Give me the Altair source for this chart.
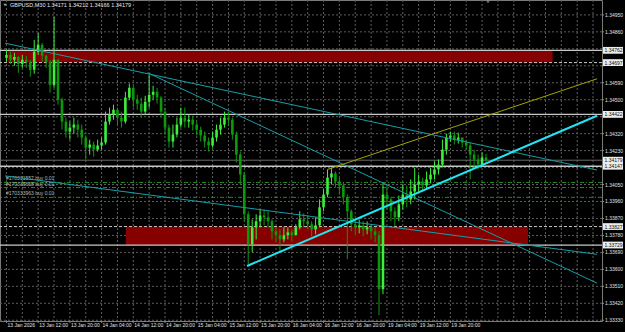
import altair as alt
import pandas as pd

# ---------------- data ----------------
symbol_title = "GBPUSD,M30  1.34171 1.34212 1.34166 1.34179"

first_open = 1.34722
closes = [1.34738, 1.34712, 1.34727, 1.34690, 1.34712, 1.34701, 1.34659, 1.34754, 1.34791, 1.34733,
          1.34701, 1.34579, 1.34712, 1.34500, 1.34384, 1.34331, 1.34352, 1.34368, 1.34341, 1.34299,
          1.34246, 1.34262, 1.34235, 1.34257, 1.34273, 1.34384, 1.34421, 1.34447, 1.34405, 1.34384,
          1.34511, 1.34563, 1.34500, 1.34479, 1.34437, 1.34489, 1.34526, 1.34542, 1.34511, 1.34437,
          1.34352, 1.34278, 1.34315, 1.34368, 1.34405, 1.34384, 1.34394, 1.34368, 1.34341, 1.34310,
          1.34278, 1.34257, 1.34299, 1.34341, 1.34368, 1.34405, 1.34394, 1.34315, 1.34209, 1.34103,
          1.33892, 1.33733, 1.33823, 1.33855, 1.33886, 1.33876, 1.33855, 1.33802, 1.33781, 1.33759,
          1.33781, 1.33796, 1.33781, 1.33823, 1.33865, 1.33855, 1.33839, 1.33812, 1.33833, 1.33929,
          1.33997, 1.34087, 1.34109, 1.34066, 1.34045, 1.33982, 1.33908, 1.33839, 1.33823, 1.33833,
          1.33812, 1.33823, 1.33802, 1.33781, 1.33495, 1.33997, 1.33971, 1.33908, 1.33876, 1.33945,
          1.33997, 1.33971, 1.34013, 1.34050, 1.34066, 1.34045, 1.34077, 1.34103, 1.34130, 1.34156,
          1.34235, 1.34299, 1.34310, 1.34288, 1.34299, 1.34273, 1.34257, 1.34209, 1.34183, 1.34156,
          1.34193, 1.34179]
highs = [1.34764, 1.34754, 1.34749, 1.34733, 1.34738, 1.34733, 1.34712, 1.34817, 1.34854, 1.34801,
         1.34738, 1.34712, 1.34939, 1.34717, 1.34511, 1.34405, 1.34384, 1.34405, 1.34394, 1.34368,
         1.34310, 1.34288, 1.34278, 1.34288, 1.34299, 1.34437, 1.34458, 1.34474, 1.34458, 1.34437,
         1.34542, 1.34585, 1.34574, 1.34526, 1.34511, 1.34521, 1.34632, 1.34574, 1.34563, 1.34521,
         1.34458, 1.34368, 1.34368, 1.34405, 1.34458, 1.34458, 1.34421, 1.34415, 1.34384, 1.34357,
         1.34331, 1.34299, 1.34331, 1.34368, 1.34405, 1.34437, 1.34437, 1.34405, 1.34331, 1.34225,
         1.34119, 1.33908, 1.33865, 1.33892, 1.33918, 1.33918, 1.33908, 1.33865, 1.33823, 1.33812,
         1.33823, 1.33823, 1.33812, 1.33839, 1.33908, 1.33897, 1.33886, 1.33855, 1.33876, 1.33971,
         1.34024, 1.34130, 1.34140, 1.34119, 1.34087, 1.34061, 1.33997, 1.33918, 1.33855, 1.33865,
         1.33855, 1.33855, 1.33839, 1.33823, 1.33802, 1.34061, 1.34045, 1.33982, 1.33929, 1.33992,
         1.34050, 1.34045, 1.34077, 1.34140, 1.34103, 1.34087, 1.34119, 1.34140, 1.34172, 1.34183,
         1.34288, 1.34320, 1.34331, 1.34331, 1.34325, 1.34299, 1.34288, 1.34273, 1.34235, 1.34209,
         1.34220, 1.34212]
lows = [1.34701, 1.34690, 1.34680, 1.34643, 1.34669, 1.34669, 1.34622, 1.34638, 1.34738, 1.34701,
        1.34669, 1.34537, 1.34563, 1.34474, 1.34341, 1.34299, 1.34288, 1.34320, 1.34299, 1.34262,
        1.34183, 1.34209, 1.34198, 1.34225, 1.34235, 1.34262, 1.34368, 1.34394, 1.34368, 1.34352,
        1.34373, 1.34500, 1.34458, 1.34447, 1.34405, 1.34421, 1.34458, 1.34500, 1.34479, 1.34405,
        1.34315, 1.34246, 1.34246, 1.34299, 1.34352, 1.34352, 1.34352, 1.34336, 1.34310, 1.34278,
        1.34246, 1.34225, 1.34246, 1.34278, 1.34315, 1.34352, 1.34362, 1.34288, 1.34167, 1.34050,
        1.33855, 1.33627, 1.33691, 1.33759, 1.33823, 1.33833, 1.33823, 1.33759, 1.33744, 1.33696,
        1.33744, 1.33759, 1.33749, 1.33781, 1.33812, 1.33823, 1.33812, 1.33775, 1.33786, 1.33823,
        1.33908, 1.33982, 1.34050, 1.34034, 1.33997, 1.33945, 1.33654, 1.33802, 1.33781, 1.33791,
        1.33775, 1.33786, 1.33759, 1.33744, 1.33357, 1.33468, 1.33918, 1.33855, 1.33828, 1.33855,
        1.33918, 1.33929, 1.33945, 1.33971, 1.34013, 1.34013, 1.34024, 1.34056, 1.34077, 1.34103,
        1.34140, 1.34209, 1.34278, 1.34262, 1.34267, 1.34246, 1.34235, 1.34077, 1.34140, 1.34130,
        1.34146, 1.34166]

time_labels = ["13 Jan 2026", "13 Jan 12:00", "13 Jan 20:00", "14 Jan 04:00", "14 Jan 12:00",
               "14 Jan 20:00", "15 Jan 04:00", "15 Jan 12:00", "15 Jan 20:00", "16 Jan 04:00",
               "16 Jan 12:00", "16 Jan 20:00", "19 Jan 04:00", "19 Jan 12:00", "19 Jan 20:00"]
label_bars = [0, 8, 16, 24, 32, 40, 48, 56, 64, 72, 80, 88, 96, 104, 112]
grid_bars = list(range(0, 149, 4))
price_ticks = [1.33330, 1.33420, 1.33510, 1.33600, 1.33690, 1.33780, 1.33870, 1.33960, 1.34050,
               1.34140, 1.34230, 1.34320, 1.34410, 1.34500, 1.34590, 1.34680, 1.34770, 1.34860, 1.34950]

level_prices = [1.34762, 1.34697, 1.34422, 1.34179, 1.34147, 1.33827, 1.33729]
level_kinds = ["solid", "dash", "solid", "bid", "solid", "dash", "solid"]

zone_x0 = [0.4, 30.1]
zone_x1 = [137.8, 131.6]
zone_lo = [1.34697, 1.33729]
zone_hi = [1.34765, 1.33827]

trend_x0 = [-0.37, 35.6, -0.37, 60.7, 81.0]
trend_p0 = [1.34800, 1.34643, 1.34096, 1.33618, 1.34130]
trend_x1 = [149.0, 149.0, 149.0, 149.0, 149.0]
trend_p1 = [1.34127, 1.33527, 1.33680, 1.34415, 1.34611]
trend_kinds = ["teal", "teal", "teal", "cyan", "olive"]

order_labels = ["#170331557 buy 0.01", "#170336658 buy 0.01", "#170333963 buy 0.01"]
order_prices = [1.34061, 1.34034, 1.33982]

# ---------------- tables ----------------
opens = [first_open] + closes[:-1]
candles = pd.DataFrame({
    "bar": list(range(len(closes))),
    "open": opens, "high": highs, "low": lows, "close": closes,
})
candles["dir"] = ["up" if c >= o else "down" for o, c in zip(opens, closes)]

levels = pd.DataFrame({"price": level_prices, "kind": level_kinds})
zones = pd.DataFrame({"x0": zone_x0, "x1": zone_x1, "lo": zone_lo, "hi": zone_hi})
trends = pd.DataFrame({"x0": trend_x0, "p0": trend_p0, "x1": trend_x1, "p1": trend_p1, "kind": trend_kinds})
orders = pd.DataFrame({"label": order_labels, "price": order_prices})
vgrid = pd.DataFrame({"bar": grid_bars})
hgrid = pd.DataFrame({"price": price_ticks, "txt": [f"{p:.5f}" for p in price_ticks]})
# price-scale labels that sit under a level tag are covered by it in the terminal
hgrid["covered"] = [any(abs(p - q) < 0.00020 for q in level_prices) for p in price_ticks]
xlabels = pd.DataFrame({"bar": label_bars, "txt": time_labels})
tags = pd.DataFrame({"price": level_prices, "txt": [f"{p:.5f}" for p in level_prices]})
title_df = pd.DataFrame({"t": [symbol_title]})

XS = alt.Scale(domain=[-0.372, 149.0], nice=False, zero=False)
YS = alt.Scale(domain=[1.33326, 1.35029], nice=False, zero=False)
FONT = "Liberation Sans"
LABEL_COL = "#e0e0e0"
GRID_COL = "#5e5e5e"


def xq(field):
    return alt.X(field, type="quantitative", scale=XS, axis=None)


def yq(field):
    return alt.Y(field, type="quantitative", scale=YS, axis=None)


vgrid_layer = alt.Chart(vgrid).mark_rule(color=GRID_COL, strokeDash=[2, 2], strokeWidth=1).encode(
    x=xq("bar"))
hgrid_layer = alt.Chart(hgrid).mark_rule(color=GRID_COL, strokeDash=[2, 2], strokeWidth=1).encode(
    y=yq("price"))

# axis ticks and labels (right price scale, bottom time scale)
ytick_layer = alt.Chart(hgrid).mark_rule(color="#8a8a8a", strokeWidth=1).encode(
    y=yq("price"), x=alt.value(602), x2=alt.value(604))
ylabel_layer = alt.Chart(hgrid).transform_filter("!datum.covered").mark_text(
    align="left", baseline="middle", fontSize=5, color=LABEL_COL, font=FONT).encode(
    x=alt.value(605), y=yq("price"), text="txt:N")
xtick_layer = alt.Chart(xlabels).mark_rule(color="#8a8a8a", strokeWidth=1).encode(
    x=xq("bar"), y=alt.value(321), y2=alt.value(323))
xlabel_layer = alt.Chart(xlabels).mark_text(align="left", baseline="top", fontSize=5, color=LABEL_COL,
                                            font=FONT, dx=1).encode(
    x=xq("bar"), y=alt.value(323), text="txt:N")

zone_layer = alt.Chart(zones).mark_rect(color="#860000", opacity=1).encode(
    x=xq("x0"), x2="x1:Q", y=yq("lo"), y2="hi:Q")

level_solid = alt.Chart(levels).transform_filter("datum.kind == 'solid'").mark_rule(
    color="#c8c8c8", strokeWidth=1.3).encode(y=yq("price"))
level_dash = alt.Chart(levels).transform_filter("datum.kind == 'dash'").mark_rule(
    color="#c8c8c8", strokeWidth=1, strokeDash=[3, 2]).encode(y=yq("price"))
level_bid = alt.Chart(levels).transform_filter("datum.kind == 'bid'").mark_rule(
    color="#6a6a6a", strokeWidth=1).encode(y=yq("price"))

order_lines = alt.Chart(orders).mark_rule(color="#1f8f1f", strokeWidth=1, strokeDash=[4, 2, 1, 2]).encode(
    y=yq("price"))
order_text = alt.Chart(orders).mark_text(align="left", baseline="bottom", dy=-1, fontSize=5,
                                         color="#b8b8b8", font=FONT).encode(
    x=alt.value(6), y=yq("price"), text="label:N")

candle_color = alt.Color("dir:N", scale=alt.Scale(domain=["up", "down"], range=["#3cf03c", "#0c9a0c"]),
                         legend=None)
wicks = alt.Chart(candles).mark_rule(strokeWidth=1).encode(
    x=xq("bar"), y=yq("low"), y2="high:Q", color=candle_color)
bodies = alt.Chart(candles).mark_bar(size=2.6).encode(
    x=xq("bar"), y=yq("open"), y2="close:Q", color=candle_color)


def trend(kind, color, width):
    return alt.Chart(trends).transform_filter(f"datum.kind == '{kind}'").mark_rule(
        clip=True, color=color, strokeWidth=width).encode(
        x=xq("x0"), x2="x1:Q", y=yq("p0"), y2="p1:Q")


trend_teal = trend("teal", "#169ea6", 1)
trend_cyan = trend("cyan", "#22e4f2", 2)
trend_olive = trend("olive", "#a4a400", 1)

tag_box = alt.Chart(tags).mark_point(shape="M-1,-0.34L1,-0.34L1,0.34L-1,0.34Z", filled=True,
                                     fill="#ececec", strokeWidth=0, size=400, opacity=1).encode(
    x=alt.value(613), y=yq("price"))
tag_text = alt.Chart(tags).mark_text(align="left", baseline="middle", fontSize=5, color="#101010",
                                     font=FONT).encode(
    x=alt.value(604.5), y=yq("price"), text="txt:N")

title_mark = alt.Chart(title_df).mark_text(align="left", baseline="middle", fontSize=5.5, color="#e6e6e6",
                                           font=FONT).encode(
    x=alt.value(10), y=alt.value(5), text="t:N")
title_tri = alt.Chart(title_df).mark_point(shape="triangle-down", filled=True, fill="#e6e6e6",
                                           size=10, strokeWidth=0).encode(x=alt.value(5), y=alt.value(5))
shift_tri = alt.Chart(title_df).mark_point(shape="triangle-down", filled=True, fill="#9a9a9a",
                                           size=14, strokeWidth=0).encode(x=alt.value(488), y=alt.value(2))

chart = alt.layer(
    vgrid_layer, hgrid_layer, ytick_layer, ylabel_layer, xtick_layer, xlabel_layer,
    zone_layer, level_bid, level_solid, level_dash, order_lines, order_text,
    wicks, bodies, trend_teal, trend_cyan, trend_olive, tag_box, tag_text,
    title_tri, title_mark, shift_tri
).properties(
    width=602, height=321,
    padding={"left": 0, "top": 0, "right": 23, "bottom": 11},
    autosize=alt.AutoSizeParams(type="none"),
    background="#000000",
).configure_view(stroke="#7a7a7a", strokeWidth=1)

chart.save("out.html", embed_options={"renderer": "svg", "actions": False})
